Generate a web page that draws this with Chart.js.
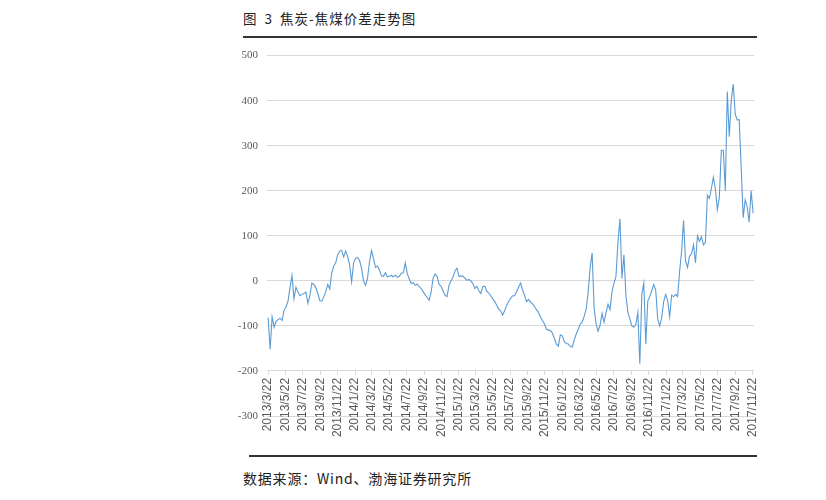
<!DOCTYPE html>
<html>
<head>
<meta charset="utf-8">
<script src="https://cdn.jsdelivr.net/npm/chart.js@4/dist/chart.umd.min.js"></script>
<style>
  html, body { margin: 0; padding: 0; background: #fff; }
  #page { position: relative; width: 826px; height: 500px; overflow: hidden; font-family: "Noto Sans CJK SC", sans-serif; color: #222; }
  #title { position: absolute; left: 243px; top: 8px; font-size: 13.5px; line-height: 20px; letter-spacing: 1px; word-spacing: 3px; }
  .rule { position: absolute; left: 243px; width: 514px; height: 2px; background: #333; }
  #box { position: absolute; left: 200px; top: 40px; width: 570px; height: 420px; }
  #source { position: absolute; left: 243px; top: 468px; font-size: 14px; line-height: 20px; letter-spacing: 0.8px; }
</style>
</head>
<body>
<div id="page">
  <div id="title">图 3 焦炭-焦煤价差走势图</div>
  <div class="rule" style="top:36px"></div>
  <div id="box"><canvas id="chart" width="570" height="420"></canvas></div>
  <div class="rule" style="top:455px; left:249px; width:508px"></div>
  <div id="source">数据来源：Wind、渤海证券研究所</div>
</div>

<script>
// Weekly coke minus coking coal spread, first point on 2013/3/22, one value per week.
const spread2013 = [-82, -152, -80, -103, -90, -86, -83, -88, -66, -58, -45, -15, 12, -40, -14, -25, -33, -30, -28, -25,
  -50, -33, -5, -8, -15, -28, -44, -45, -35, -24, -8, -18, 18, 33, 40, 58, 66, 68, 53, 66, 54];
const spread2014 = [35, -2, 40, 50, 52, 45, 28, 0, -10, 6, 42, 67, 50, 30, 33, 24, 11, 10, 18, 9, 10, 12, 9, 13, 8, 10,
  17, 18, 40, 16, 4, -6, -4, -10, -7, -13, -17, -24, -31, -37, -43, -25, 6, 15, 10, -8, -12, -22, -32, -35, -10, 0];
const spread2015 = [8, 22, 28, 10, 11, 10, 6, 1, 3, 0, -6, -17, -12, -22, -28, -13, -12, -23, -27, -33, -40, -46, -54,
  -63, -67, -76, -66, -54, -46, -39, -33, -33, -24, -14, -5, -20, -32, -46, -41, -47, -51, -57, -64, -70, -80, -88, -96,
  -107, -110, -110, -116, -128];
const spread2016 = [-140, -145, -120, -122, -135, -139, -140, -146, -147, -131, -118, -108, -96, -91, -79, -63, -25, 30,
  62, -60, -96, -112, -98, -72, -92, -70, -52, -64, -24, -5, 10, 85, 138, 5, 58, -32, -70, -85, -100, -103, -97, -70,
  -184, -30, -5, -140, -45, -35, -22, -8, -21, -85, -100];
const spread2017 = [-82, -46, -30, -44, -80, -32, -35, -30, -35, 20, 65, 134, 44, 30, 55, 60, 80, 40, 100, 88, 98, 80,
  85, 190, 183, 205, 230, 205, 158, 185, 290, 290, 200, 420, 320, 400, 437, 370, 357, 358, 250, 140, 180, 165, 130,
  200, 150];

// Labels under the chart, every two months.
const tickLabels = ["2013/3/22", "2013/5/22", "2013/7/22", "2013/9/22", "2013/11/22", "2014/1/22", "2014/3/22",
  "2014/5/22", "2014/7/22", "2014/9/22", "2014/11/22", "2015/1/22", "2015/3/22", "2015/5/22", "2015/7/22",
  "2015/9/22", "2015/11/22", "2016/1/22", "2016/3/22", "2016/5/22", "2016/7/22", "2016/9/22", "2016/11/22",
  "2017/1/22", "2017/3/22", "2017/5/22", "2017/7/22", "2017/9/22", "2017/11/22"];

// Values on the left axis.
const yTicks = [-300, -200, -100, 0, 100, 200, 300, 400, 500];

// Days counted from the first week.
const startDay = Date.UTC(2013, 2, 22);
function dayOf(label) {
  const p = label.split("/").map(Number);
  return Math.round((Date.UTC(p[0], p[1] - 1, p[2]) - startDay) / 86400000);
}
const tickDays = tickLabels.map(dayOf);

const spread = [].concat(spread2013, spread2014, spread2015, spread2016, spread2017);
const points = spread.map((v, i) => ({ x: i * 7, y: v }));

const ctx = document.getElementById("chart");

new Chart(ctx, {
  type: "line",
  data: {
    datasets: [
      {
        label: "价差",
        data: points,
        borderColor: "#5B9BD5",
        borderWidth: 1.1,
        pointRadius: 0,
        tension: 0,
        fill: false,
      },
    ],
  },
  options: {
    responsive: false,
    animation: false,
    devicePixelRatio: 1,
    layout: { padding: { left: 0, top: 15, right: 13, bottom: 44 } },
    plugins: {
      legend: { display: false },
      tooltip: { enabled: false },
    },
    scales: {
      x: {
        type: "linear",
        // category axis sits on the -200 line, like the original
        position: { y: -200 },
        min: -4,
        max: 1712,
        afterBuildTicks: (scale) => {
          scale.ticks = tickDays.map((d) => ({ value: d }));
        },
        ticks: {
          autoSkip: false,
          minRotation: 90,
          maxRotation: 90,
          padding: 3,
          color: "#595959",
          font: { family: "Liberation Sans", size: 12 },
          callback: (value) => tickLabels[tickDays.indexOf(value)],
        },
        grid: { drawOnChartArea: false, drawTicks: true, tickLength: 4, color: "#d9d9d9" },
        border: { display: false },
      },
      y: {
        min: -300,
        max: 500,
        afterFit: (scale) => {
          scale.width = 67;
        },
        afterBuildTicks: (scale) => {
          scale.ticks = yTicks.map((v) => ({ value: v }));
        },
        ticks: {
          padding: 9,
          color: "#595959",
          font: { family: "Liberation Sans Narrow", size: 11 },
        },
        grid: { color: "#d9d9d9", drawTicks: false },
        border: { display: false },
      },
    },
  },
});
</script>
</body>
</html>
